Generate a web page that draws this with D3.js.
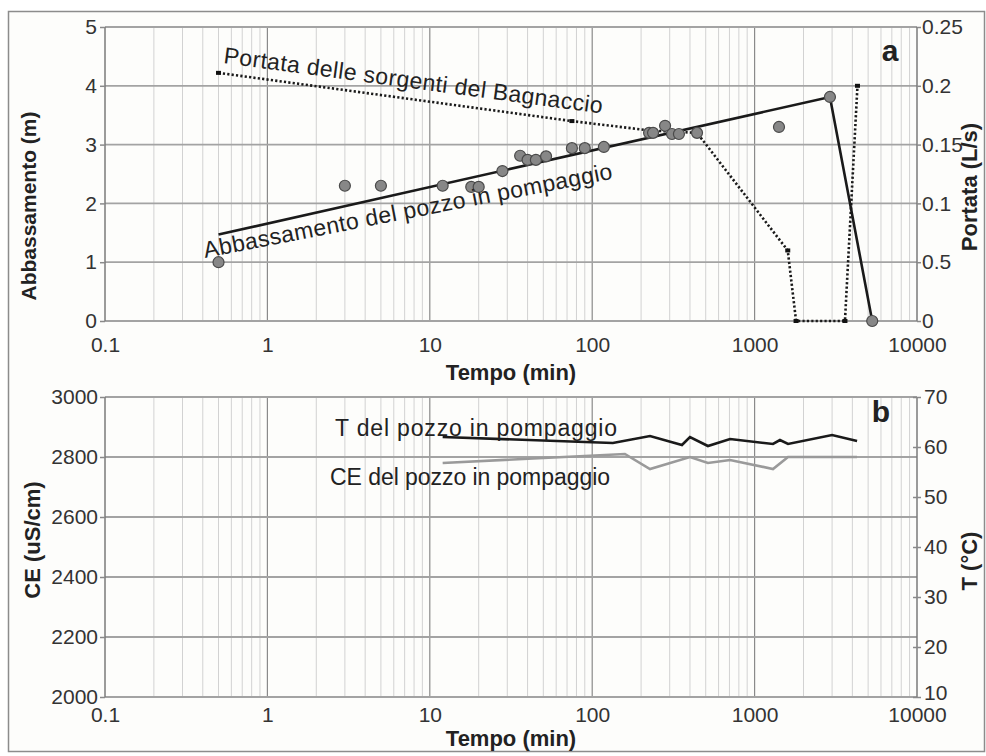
<!DOCTYPE html>
<html>
<head>
<meta charset="utf-8">
<script src="https://cdn.jsdelivr.net/npm/d3@7"></script>
<style>
  html, body { margin: 0; padding: 0; background: #ffffff; }
  svg { display: block; }
  text { font-family: "Liberation Sans", Arial, Helvetica, sans-serif; }
</style>
</head>
<body>
<svg id="chart" width="986" height="756"></svg>
<script>
// ---- data -------------------------------------------------------------
const timeTicks = [0.1, 1, 10, 100, 1000, 10000];
const timeTickLabels = ["0.1", "1", "10", "100", "1000", "10000"];

// panel a: drawdown of the pumped well (m) and spring discharge (L/s)
const drawdownTicks = [0, 1, 2, 3, 4, 5];
const flowTicks = [0, 0.05, 0.1, 0.15, 0.2, 0.25];
const flowTickLabels = ["0", "0.5", "0.1", "0.15", "0.2", "0.25"];

const obsTime = [0.5, 3, 5, 12, 18, 20, 28, 36, 40, 45, 52, 75, 90, 118, 224, 237, 281, 310, 342, 442, 1413, 2910, 5300];
const obsDrawdown = [1.0, 2.3, 2.3, 2.3, 2.28, 2.28, 2.55, 2.81, 2.74, 2.74, 2.8, 2.94, 2.94, 2.96, 3.2, 3.2, 3.32, 3.18, 3.18, 3.2, 3.3, 3.81, 0];

const fitTime = [0.5, 2910, 5300];
const fitDrawdown = [1.47, 3.81, 0];

const flowTime = [0.5, 75, 227, 442, 1600, 1800, 3600, 4300];
const flowValue = [0.211, 0.170, 0.162, 0.160, 0.060, 0, 0, 0.200];

// panel b: electrical conductivity (uS/cm) and temperature (°C)
const ceTicks = [2000, 2200, 2400, 2600, 2800, 3000];
const tempTicks = [10, 20, 30, 40, 50, 60, 70];

const tempTime = [12, 134, 227, 357, 400, 516, 706, 1298, 1433, 1606, 2999, 4276];
const tempValue = [62.0, 60.8, 62.2, 60.4, 62.0, 60.2, 61.6, 60.6, 61.4, 60.6, 62.4, 61.2];

const ceTime = [12, 159, 227, 400, 516, 706, 1298, 1606, 4276];
const ceValue = [2780, 2810, 2760, 2800, 2780, 2790, 2760, 2800, 2800];

// ---- layout -----------------------------------------------------------
const svg = d3.select("#chart");
const X0 = 105, X1 = 917;
const A = { top: 27, bottom: 321 };
const B = { top: 397, bottom: 697 };
const TICK_FONT = 21;

svg.append("rect").attr("x", 8.5).attr("y", 11.5).attr("width", 976).attr("height", 740)
  .attr("fill", "#fdfdfb").attr("stroke", "#8c8c8c").attr("stroke-width", 1.5);

const x = d3.scaleLog().domain([0.1, 10000]).range([X0, X1]);

// minor log ticks (2..9 of every decade)
const minorTicks = [];
for (let e = -1; e < 4; e++) for (let m = 2; m <= 9; m++) minorTicks.push(m * Math.pow(10, e));

function verticalGrid(g, top, bottom) {
  g.selectAll(".minor").data(minorTicks).join("line")
    .attr("x1", d => x(d)).attr("x2", d => x(d)).attr("y1", top).attr("y2", bottom)
    .attr("stroke", "#d2d2d2").attr("stroke-width", 1);
  g.selectAll(".major").data(timeTicks.slice(1, -1)).join("line")
    .attr("x1", d => x(d)).attr("x2", d => x(d)).attr("y1", top).attr("y2", bottom)
    .attr("stroke", "#8a8a8a").attr("stroke-width", 1.2);
}

function styleAxis(g, size) {
  g.select(".domain").remove();
  g.selectAll(".tick line").attr("stroke", "#8a8a8a").attr("stroke-width", 1.5);
  g.selectAll(".tick text").attr("fill", "#333").style("font-size", size + "px")
    .style("font-family", '"Liberation Sans", Arial, sans-serif');
}

function title(g, tx, ty, rot, size, label) {
  g.append("text").attr("transform", `translate(${tx},${ty})` + (rot ? ` rotate(${rot})` : ""))
    .attr("text-anchor", "middle").style("font-size", size + "px").style("font-weight", "bold")
    .attr("fill", "#222").text(label);
}

// ================= panel a =================
const yA = d3.scaleLinear().domain([0, 5]).range([A.bottom, A.top]);
const yF = d3.scaleLinear().domain([0, 0.25]).range([A.bottom, A.top]);

const ga = svg.append("g");
verticalGrid(ga.append("g"), A.top, A.bottom);
ga.append("g").selectAll("line").data(drawdownTicks).join("line")
  .attr("x1", X0).attr("x2", X1).attr("y1", d => yA(d)).attr("y2", d => yA(d))
  .attr("stroke", "#a3a3a3").attr("stroke-width", 1.8);
ga.append("line").attr("x1", X0).attr("x2", X0).attr("y1", A.top).attr("y2", A.bottom)
  .attr("stroke", "#7a7a7a").attr("stroke-width", 1.5);
ga.append("line").attr("x1", X1).attr("x2", X1).attr("y1", A.top).attr("y2", A.bottom)
  .attr("stroke", "#7a7a7a").attr("stroke-width", 1.5);

ga.append("g").attr("transform", `translate(${X0},0)`)
  .call(d3.axisLeft(yA).tickValues(drawdownTicks).tickFormat(d3.format("d")).tickSize(5).tickPadding(3))
  .call(g => styleAxis(g, TICK_FONT));
ga.append("g").attr("transform", `translate(${X1},0)`)
  .call(d3.axisRight(yF).tickValues(flowTicks).tickFormat((d, i) => flowTickLabels[i]).tickSize(4).tickPadding(1))
  .call(g => styleAxis(g, TICK_FONT));
ga.append("g").attr("transform", `translate(0,${A.bottom})`)
  .call(d3.axisBottom(x).tickValues(timeTicks).tickFormat((d, i) => timeTickLabels[i]).tickSize(0).tickPadding(16))
  .call(g => styleAxis(g, TICK_FONT));

// spring discharge: dotted line with small square markers
const flowPts = flowTime.map((t, i) => [t, flowValue[i]]);
ga.append("path").datum(flowPts)
  .attr("d", d3.line().x(d => x(d[0])).y(d => yF(d[1])))
  .attr("fill", "none").attr("stroke", "#1a1a1a").attr("stroke-width", 2.6)
  .attr("stroke-dasharray", "2.2,2.2");
ga.selectAll(".fm").data(flowPts).join("rect")
  .attr("x", d => x(d[0]) - 2.5).attr("y", d => yF(d[1]) - 2)
  .attr("width", 5).attr("height", 4).attr("fill", "#111");

// linear fit of drawdown on log time
const fitPts = fitTime.map((t, i) => [t, fitDrawdown[i]]);
ga.append("path").datum(fitPts)
  .attr("d", d3.line().x(d => x(d[0])).y(d => yA(d[1])))
  .attr("fill", "none").attr("stroke", "#1a1a1a").attr("stroke-width", 2.6);

// observed drawdown
ga.selectAll(".obs").data(obsTime.map((t, i) => [t, obsDrawdown[i]])).join("circle")
  .attr("cx", d => x(d[0])).attr("cy", d => yA(d[1])).attr("r", 5.5)
  .attr("fill", "#878787").attr("stroke", "#4a4a4a").attr("stroke-width", 1.2);

// in-plot labels
ga.append("text").attr("transform", "translate(223,63) rotate(7.6)")
  .style("font-size", "23px").attr("fill", "#222")
  .attr("textLength", 382).attr("lengthAdjust", "spacing")
  .text("Portata delle sorgenti del Bagnaccio");
ga.append("text").attr("transform", "translate(205,258) rotate(-11)")
  .style("font-size", "23px").attr("fill", "#222")
  .attr("textLength", 416).attr("lengthAdjust", "spacing")
  .text("Abbassamento del pozzo in pompaggio");
ga.append("text").attr("x", 890).attr("y", 61).attr("text-anchor", "middle")
  .style("font-size", "30px").style("font-weight", "bold").attr("fill", "#222").text("a");

// axis titles
title(ga, 36, 206, -90, 21, "Abbassamento (m)");
title(ga, 977, 187, -90, 22, "Portata (L/s)");
title(ga, (X0 + X1) / 2, 380, 0, 22, "Tempo (min)");

// ================= panel b =================
const yC = d3.scaleLinear().domain([2000, 3000]).range([B.bottom, B.top]);
const yT = d3.scaleLinear().domain([10, 70]).range([B.bottom, B.top]);

const gb = svg.append("g");
verticalGrid(gb.append("g"), B.top, B.bottom);
gb.append("g").selectAll("line").data(ceTicks).join("line")
  .attr("x1", X0).attr("x2", X1).attr("y1", d => yC(d)).attr("y2", d => yC(d))
  .attr("stroke", "#a3a3a3").attr("stroke-width", 1.8);
gb.append("line").attr("x1", X0).attr("x2", X0).attr("y1", B.top).attr("y2", B.bottom)
  .attr("stroke", "#7a7a7a").attr("stroke-width", 1.5);
gb.append("line").attr("x1", X1).attr("x2", X1).attr("y1", B.top).attr("y2", B.bottom)
  .attr("stroke", "#7a7a7a").attr("stroke-width", 1.5);

gb.append("g").attr("transform", `translate(${X0},0)`)
  .call(d3.axisLeft(yC).tickValues(ceTicks).tickFormat(d3.format("d")).tickSize(5).tickPadding(2))
  .call(g => styleAxis(g, TICK_FONT));
gb.append("g").attr("transform", `translate(${X1},0)`)
  .call(d3.axisRight(yT).tickValues(tempTicks).tickFormat(d3.format("d")).tickSize(4).tickPadding(3))
  .call(g => styleAxis(g, TICK_FONT))
  .call(g => g.selectAll(".tick line").attr("x1", -4))
  .call(g => g.selectAll(".tick").filter(d => d === 10).select("text").attr("dy", "0.1em"));
gb.append("g").attr("transform", `translate(0,${B.bottom})`)
  .call(d3.axisBottom(x).tickValues(timeTicks).tickFormat((d, i) => timeTickLabels[i]).tickSize(0).tickPadding(10))
  .call(g => styleAxis(g, TICK_FONT));

const lineCT = (ys) => d3.line().x(d => x(d[0])).y(d => ys(d[1]));
gb.append("path").datum(ceTime.map((t, i) => [t, ceValue[i]]))
  .attr("d", lineCT(yC)).attr("fill", "none").attr("stroke", "#9a9a9a").attr("stroke-width", 2.6);
gb.append("path").datum(tempTime.map((t, i) => [t, tempValue[i]]))
  .attr("d", lineCT(yT)).attr("fill", "none").attr("stroke", "#1a1a1a").attr("stroke-width", 2.6);

gb.append("text").attr("x", 335).attr("y", 436).style("font-size", "23px").attr("fill", "#222")
  .attr("textLength", 282).attr("lengthAdjust", "spacing").text("T del pozzo in pompaggio");
gb.append("text").attr("x", 330).attr("y", 485).style("font-size", "23px").attr("fill", "#222")
  .attr("textLength", 280).attr("lengthAdjust", "spacing").text("CE del pozzo in pompaggio");
gb.append("text").attr("x", 881).attr("y", 422).attr("text-anchor", "middle")
  .style("font-size", "30px").style("font-weight", "bold").attr("fill", "#222").text("b");

title(gb, 40, 540, -90, 22, "CE (uS/cm)");
title(gb, 977, 561, -90, 22, "T (°C)");
title(gb, (X0 + X1) / 2, 746, 0, 22, "Tempo (min)");
</script>
</body>
</html>
